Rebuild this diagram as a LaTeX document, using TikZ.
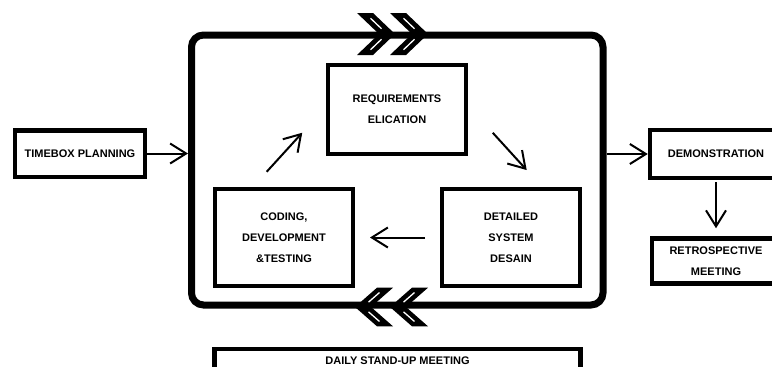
\documentclass[tikz,border=0pt]{standalone}
\usepackage{fontspec}
\setmainfont{Liberation Sans}
\usetikzlibrary{arrows.meta}
\tikzset{
  box/.style = {
    rectangle, draw=black, line width=4.5pt,
    inner sep=0pt, align=center,
    font=\fontsize{11}{21}\selectfont\bfseries
  },
  sprintbox/.style = {
    rectangle, draw=black, line width=7pt,
    rounded corners=12pt, inner sep=0pt
  },
  arr/.style = {-{Straight Barb[length=16pt,width=20pt]}, line width=2pt},
  chev/.pic = {
    \fill (0,-21) -- (16,-21) -- (38,0) -- (16,21) -- (0,21) -- (22,0) -- cycle;
    \draw[white, line width=1.3pt] (13.5,-15.75) -- (24.5,-5.25);
    \draw[white, line width=1.3pt] (13.5,15.75) -- (24.5,5.25);
  }
}

\begin{document}
\begin{tikzpicture}[x=1pt, y=-1pt]
\useasboundingbox (0,0) rectangle (772,367);

%% Sprint loop
\node[sprintbox, minimum width=411.5pt, minimum height=270pt] (spr) at (397.25,170) {};
\pic at (357,34) {chev};
\pic at (390,34) {chev};
\pic[xscale=-1, yscale=0.92] at (428,307) {chev};
\pic[xscale=-1, yscale=0.92] at (393,307) {chev};

%% Inner boxes
\node[box, minimum width=138pt, minimum height=89pt] (req) at (397,109.5) {REQUIREMENTS\\ELICATION};
\node[box, minimum width=138pt, minimum height=97pt] (det) at (511,237.5) {DETAILED\\SYSTEM\\DESAIN};
\node[box, minimum width=138pt, minimum height=97pt] (cod) at (284,237.5) {CODING,\\DEVELOPMENT\\\&TESTING};

%% Outer boxes
\node[box, minimum width=130pt, minimum height=46.5pt] (tbp) at (80,153.5) {TIMEBOX PLANNING};
\node[box, minimum width=132pt, minimum height=48pt] (dem) at (716,154) {DEMONSTRATION};
\node[box, minimum width=128pt, minimum height=45pt] (ret) at (716,261) {RETROSPECTIVE\\MEETING};
\node[box, anchor=north, minimum width=366pt, inner ysep=7.5pt,
      text height=8pt, text depth=4pt] (dsm) at (397.5,346.5) {DAILY STAND-UP MEETING};

%% Loop arrows
\draw[arr] ([shift={(-17.3,-15)}]cod.north) -- ([shift={(-23.5,-23.5)}]req.south west);
\draw[arr] ([shift={(24.5,-23.5)}]req.south east) -- ([shift={(15.7,-16.7)}]det.north);
\draw[arr, shorten <=14.75pt, shorten >=14.75pt] (det.west) -- (cod.east);

%% Outer arrows
\draw[arr] (tbp) -- (spr.west |- tbp);
\draw[arr] (spr.east |- dem) -- (dem);
\draw[arr, shorten <=2pt, shorten >=8pt] (dem) -- (ret);

\end{tikzpicture}
\end{document}
